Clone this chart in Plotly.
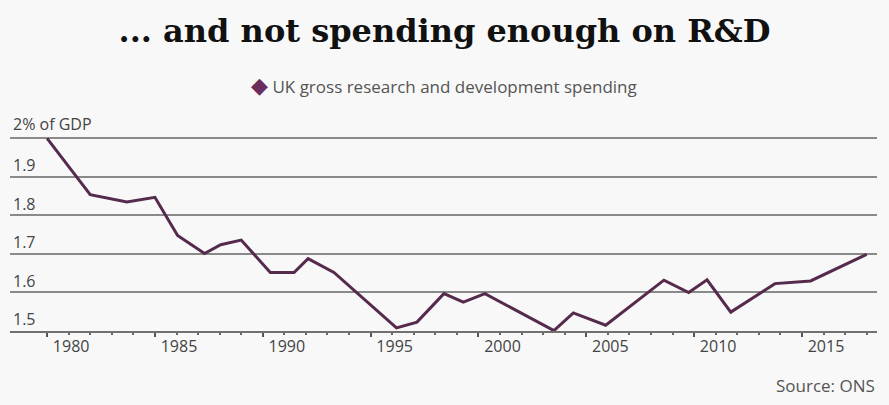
import plotly.graph_objects as go

# Data (x positions as read against the year ticks)
years = [1980.0, 1982.0, 1983.7, 1985.0, 1986.05, 1987.3, 1988.05, 1989.0,
         1990.35, 1991.45, 1992.1, 1993.3, 1996.2, 1997.15, 1998.4, 1999.3,
         2000.3, 2003.5, 2004.4, 2005.9, 2008.6, 2009.75, 2010.6, 2011.7,
         2013.75, 2015.4, 2018.0]
rd_pct_gdp = [2.00, 1.854, 1.835, 1.847, 1.748, 1.701, 1.724, 1.736,
              1.652, 1.652, 1.688, 1.652, 1.508, 1.523, 1.597, 1.575,
              1.597, 1.501, 1.547, 1.515, 1.632, 1.600, 1.633, 1.549,
              1.623, 1.630, 1.699]

x_tickvals = [1980, 1985, 1990, 1995, 2000, 2005, 2010, 2015]
x_ticktext = ["1980", "1985", "1990", "1995", "2000", "2005", "2010", "2015"]
y_tickvals = [1.5, 1.6, 1.7, 1.8, 1.9, 2.0]
y_ticktext = ["1.5", "1.6", "1.7", "1.8", "1.9", ""]
y_top_label = "2% of GDP"

series_name = "UK gross research and development spending"
title_text = "... and not spending enough on R&D"
source_text = "Source: ONS"

LINE = "#552a4c"
BG = "#f8f8f8"

Y0, Y1 = 1.5, 2.053
PX_PER_UNIT = 385.0
AXIS_PX = 331.0
H_PLOT = (Y1 - Y0) * PX_PER_UNIT
TOP_PX = AXIS_PX - H_PLOT

fig = go.Figure()
fig.add_trace(go.Scatter(
    x=years, y=rd_pct_gdp, mode="lines", name=series_name,
    line=dict(color=LINE, width=3),
    showlegend=False, hoverinfo="x+y"))

fig.update_layout(
    width=889, height=405,
    margin=dict(l=10, r=12, t=TOP_PX, b=405 - AXIS_PX),
    paper_bgcolor=BG, plot_bgcolor=BG,
    title=dict(text="<b>" + title_text + "</b>", x=0.5, xanchor="center",
               y=1 - 31 / 405, yanchor="middle",
               font=dict(family="DejaVu Serif", size=32, color="#111111")),
    showlegend=False,
    xaxis=dict(range=[1978.28, 2018.48], tickvals=x_tickvals, ticktext=x_ticktext,
               ticklabelposition="outside right", ticklabelshift=4,
               ticks="outside", ticklen=4, tickwidth=1.5, tickcolor="#555555",
               minor=dict(dtick=1, tick0=1980, ticks="outside", ticklen=2,
                          tickwidth=2, tickcolor="#666666"),
               showline=True, linecolor="#707070", linewidth=2,
               showgrid=False, zeroline=False,
               tickfont=dict(family="Open Sans", size=16, color="#444444")),
    yaxis=dict(range=[Y0, Y1], tickvals=y_tickvals, ticktext=y_ticktext,
               ticklabelposition="inside top", ticks="",
               showgrid=True, gridcolor="#8a8a8a", gridwidth=2,
               zeroline=False, showline=False,
               tickfont=dict(family="Open Sans", size=16, color="#444444")),
    annotations=[
        dict(text=y_top_label, xref="paper", yref="y", x=0, xanchor="left",
             y=y_tickvals[-1], yanchor="bottom", xshift=1, yshift=1,
             showarrow=False,
             font=dict(family="Open Sans", size=16, color="#444444")),
        dict(text="<span style='color:#6a2d5c;font-size:22px'>◆</span> " + series_name,
             xref="paper", yref="paper", x=0.5, xanchor="center",
             y=1 + (TOP_PX - 84) / H_PLOT, yanchor="middle", showarrow=False,
             font=dict(family="Open Sans", size=17, color="#555555")),
        dict(text=source_text, xref="paper", yref="paper",
             x=1.0, xanchor="right", y=-(385 - AXIS_PX) / H_PLOT,
             yanchor="middle", showarrow=False,
             font=dict(family="Open Sans", size=17, color="#555555")),
    ],
)

fig.write_html("out.html")
